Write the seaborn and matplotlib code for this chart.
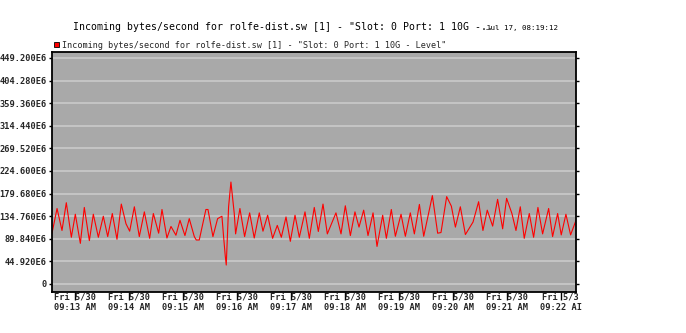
import matplotlib
matplotlib.use("Agg")
import matplotlib.pyplot as plt
import seaborn as sns
import pandas as pd
from matplotlib.patches import Patch

# ---------------- data ----------------
title_text = 'Incoming bytes/second for rolfe-dist.sw [1] - "Slot: 0 Port: 1 10G -..'
stamp_text = "Jul 17, 08:19:12"
series_name = 'Incoming bytes/second for rolfe-dist.sw [1] - "Slot: 0 Port: 1 10G - Level"'

# seconds after 09:13:00 (Fri 5/30)
seconds = [
    -25.2, -19.6, -14.1, -9.3, -3.7, 0.7, 6.3, 10.7, 16.3, 20.7, 26.3, 31.8, 36.7,
    41.8, 47.0, 51.8, 57.0, 61.1, 66.3, 71.8, 77.4, 83.3, 87.4,
    93.3, 97.0, 102.5, 107.0, 112.5, 117.0, 122.5, 127.3, 132.9, 135.1, 138.4,
    145.8, 148.1, 153.6, 158.8, 163.6, 165.5, 167.3, 168.4, 171.0, 173.6, 177.3,
    178.8, 183.6, 188.8, 194.4, 199.5, 205.1,
    209.2, 214.4, 219.9, 225.1, 229.6, 234.8, 239.6, 244.8, 249.6, 255.9, 260.7,
    266.2, 270.7, 275.9, 280.7, 290.3, 295.9, 300.7, 306.3, 311.4, 315.9, 321.1,
    325.9, 331.5, 335.9, 342.2, 346.3, 351.8, 356.3, 362.6, 367.4, 372.9, 377.4,
    383.0, 387.8, 397.4, 403.3, 407.0, 413.3, 418.5, 423.0, 428.5, 434.1, 442.6,
    448.8, 453.6, 458.4, 464.4, 469.9, 475.5, 479.9, 485.8, 490.3, 495.1, 499.5,
    505.1, 509.9, 514.7, 519.9, 526.6, 531.0, 536.6, 540.6, 545.8, 551.0, 557.0,
]
# bytes/second, in millions
mbytes = [
    100.9, 150.0, 106.3, 161.5, 92.8, 138.6, 80.7, 152.1, 86.1, 138.6, 92.8, 134.6, 94.2,
    140.0, 88.8, 158.8, 119.7, 104.9, 153.4, 94.2, 143.3, 90.8, 140.0,
    100.9, 148.0, 91.4, 114.3, 96.8, 126.5, 96.2, 129.8, 94.2, 87.4, 87.4,
    148.0, 148.0, 94.2, 129.8, 134.6, 92.8, 55.7, 37.6, 153.4, 202.6, 140.0,
    99.5, 150.0, 94.2, 141.3, 91.4, 141.3,
    104.9, 136.6, 90.8, 116.4, 92.8, 133.2, 84.7, 136.6, 92.8, 143.3, 90.8,
    152.1, 104.3, 158.8, 99.5, 141.3, 99.5, 155.4, 96.2, 143.3, 113.0, 146.7,
    96.2, 141.3, 74.6, 136.6, 90.8, 148.0, 94.8, 138.6, 94.8, 141.3, 99.5,
    158.1, 94.8, 175.6, 100.9, 102.2, 173.6, 154.7, 113.0, 153.4, 98.2, 123.1,
    163.5, 106.3, 146.7, 115.0, 168.2, 109.6, 170.2, 140.0, 106.3, 153.4, 90.8,
    140.0, 92.8, 152.1, 99.5, 150.0, 94.2, 140.0, 97.5, 138.6, 97.5, 126.5,
]

y_ticks = [0, 44.92, 89.84, 134.76, 179.68, 224.60, 269.52, 314.44, 359.36, 404.28, 449.20]
y_tick_labels = ["0", "44.920E6", "89.840E6", "134.760E6", "179.680E6", "224.600E6",
                 "269.520E6", "314.440E6", "359.360E6", "404.280E6", "449.200E6"]
x_ticks = [0, 60, 120, 180, 240, 300, 360, 420, 480, 540]
x_tick_labels = ["Fri 5/30\n09:13 AM", "Fri 5/30\n09:14 AM", "Fri 5/30\n09:15 AM",
                 "Fri 5/30\n09:16 AM", "Fri 5/30\n09:17 AM", "Fri 5/30\n09:18 AM",
                 "Fri 5/30\n09:19 AM", "Fri 5/30\n09:20 AM", "Fri 5/30\n09:21 AM",
                 "Fri 5/3\n09:22 AI"]

df = pd.DataFrame({"t": seconds, "v": mbytes})

# ---------------- figure ----------------
sns.set_style("white")
plt.rcParams["font.family"] = ["DejaVu Sans Mono"]

W, H = 686, 333
fig = plt.figure(figsize=(W / 100, H / 100), dpi=100)
fig.patch.set_facecolor("white")
L, R, T, B = 52, 576, 51.7, 292
ax = fig.add_axes([L / W, 1 - B / H, (R - L) / W, (B - T) / H])
ax.set_facecolor("#a9a9a9")

sns.lineplot(data=df, x="t", y="v", ax=ax, color="#ff0000", linewidth=0.8,
             legend=False)

ax.set_xlim(-25.2, 557.0)
ax.set_ylim(-16.0, 461.7)
ax.set_yticks(y_ticks)
ax.set_yticklabels(y_tick_labels)
ax.set_xticks(x_ticks)
ax.set_xticklabels(x_tick_labels, linespacing=1.15)
ax.set_xlabel("")
ax.set_ylabel("")

ax.grid(axis="y", color="#c8c8c8", linewidth=1.3)
ax.grid(axis="x", visible=False)
ax.set_axisbelow(True)

for s in ax.spines.values():
    s.set_color("black")
    s.set_linewidth(1.3)
    s.set_visible(True)

ax.tick_params(axis="y", which="both", left=True, right=True, direction="out",
               length=2.5, width=1, color="black", labelsize=6.2, pad=1.5)
ax.tick_params(axis="x", bottom=True, direction="out", length=5.5, width=1,
               color="black", labelsize=6.2, pad=-5.0)
for lab in ax.get_yticklabels() + ax.get_xticklabels():
    lab.set_fontweight("bold")

# title and timestamp
fig.text(73 / W, 1 - 27 / H, title_text, fontsize=7.1, ha="left", va="center",
         color="black")
fig.text(558 / W, 1 - 28 / H, stamp_text, fontsize=5.4, ha="right", va="center",
         color="black")

# legend
ax.legend(handles=[Patch(facecolor="#ff0000", edgecolor="black", linewidth=0.6,
                         label=series_name)],
          loc="lower left", bbox_to_anchor=(0.0, 1.0), frameon=False,
          fontsize=6.1, handlelength=0.6, handleheight=0.6, handletextpad=0.35,
          borderpad=0.1, borderaxespad=0.15)

fig.savefig("out.png", dpi=100, facecolor="white")
